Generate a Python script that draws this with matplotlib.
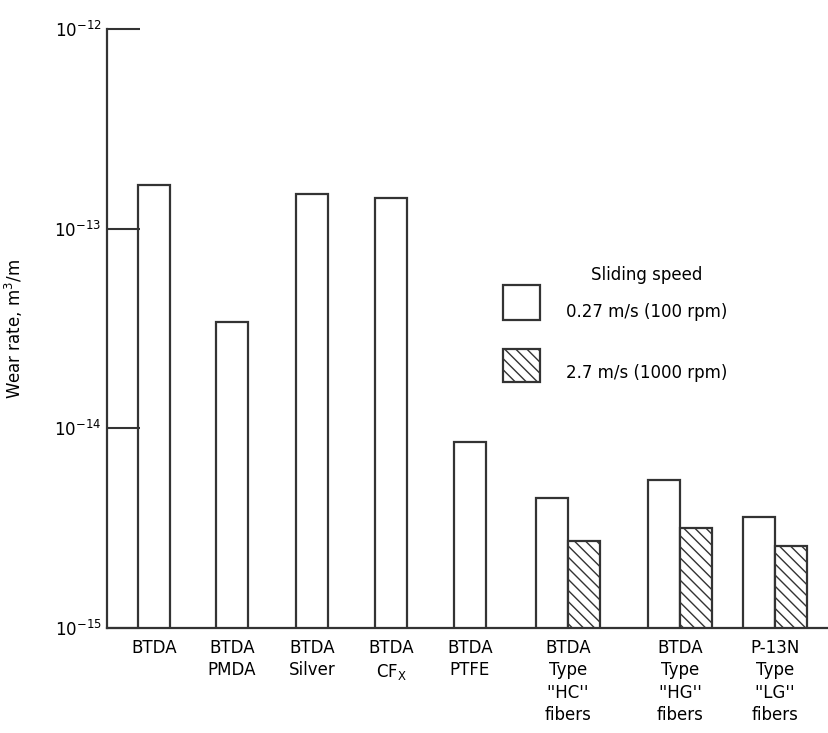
import matplotlib
matplotlib.use("Agg")
import matplotlib.pyplot as plt
from matplotlib.patches import Rectangle

plt.rcParams['font.family'] = ['DejaVu Sans']
plt.rcParams['hatch.linewidth'] = 1.0

# 데이터
labels = ["BTDA", "BTDA\nPMDA", "BTDA\nSilver", "BTDA\nCF$_\\mathrm{X}$", "BTDA\nPTFE",
          "BTDA\nType\n''HC''\nfibers", "BTDA\nType\n''HG''\nfibers", "P-13N\nType\n''LG''\nfibers"]
slow = [1.66e-13, 3.4e-14, 1.50e-13, 1.43e-13, 8.5e-15, 4.47e-15, 5.5e-15, 3.59e-15]
fast = [None, None, None, None, None, 2.72e-15, 3.16e-15, 2.57e-15]

# 위치 (픽셀 기준)
centers = [154, 232, 312, 391, 470, 568, 680, 775]
w = 32

fig = plt.figure(figsize=(8.29, 7.33), dpi=100)
ax = fig.add_axes([107 / 829, 1 - 628 / 733, 1 - 107 / 829, (628 - 29) / 733])

for c, s, f in zip(centers, slow, fast):
    if f is None:
        ax.bar(c, s, width=w, color='white', edgecolor='#333333', linewidth=1.6)
    else:
        ax.bar(c - w / 2, s, width=w, color='white', edgecolor='#333333', linewidth=1.6)
        ax.bar(c + w / 2, f, width=w, color='white', edgecolor='#333333',
               linewidth=1.6, hatch='\\\\\\')

ax.set_yscale('log')
ax.set_ylim(1e-15, 1e-12)
ax.set_xlim(107, 829)
ax.set_yticks([1e-15, 1e-14, 1e-13, 1e-12])
ax.set_yticklabels(['$10^{-15}$', '$10^{-14}$', '$10^{-13}$', '$10^{-12}$'], fontsize=12)
ax.minorticks_off()
ax.tick_params(axis='y', direction='in', length=24, width=1.5, color='#333333', pad=4)
ax.set_xticks(centers)
ax.set_xticklabels(labels, fontsize=12, linespacing=1.3)
ax.tick_params(axis='x', length=0, pad=8)
for sp in ['top', 'right']:
    ax.spines[sp].set_visible(False)
for sp in ['left', 'bottom']:
    ax.spines[sp].set_linewidth(1.6)
    ax.spines[sp].set_color('#333333')
ax.set_ylabel('Wear rate, m$^3$/m', fontsize=12)
ax.yaxis.set_label_coords(-82 / 722, 0.5)

# 범례
ft = fig.transFigure
fig.add_artist(Rectangle((503 / 829, 1 - 320 / 733), 37 / 829, 35 / 733, transform=ft,
                         facecolor='white', edgecolor='#333333', linewidth=1.6))
fig.add_artist(Rectangle((503 / 829, 1 - 382 / 733), 37 / 829, 33 / 733, transform=ft,
                         facecolor='white', edgecolor='#333333', linewidth=1.6, hatch='\\\\\\'))
fig.text(647 / 829, 1 - 275 / 733, 'Sliding speed', ha='center', va='center', fontsize=12)
fig.text(566 / 829, 1 - 312 / 733, '0.27 m/s (100 rpm)', ha='left', va='center', fontsize=12)
fig.text(566 / 829, 1 - 373 / 733, '2.7 m/s (1000 rpm)', ha='left', va='center', fontsize=12)

fig.savefig('out.png', dpi=100)
